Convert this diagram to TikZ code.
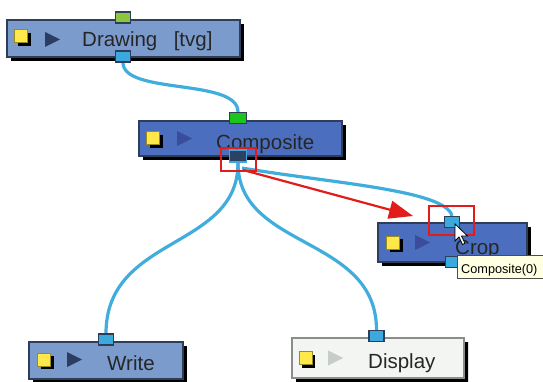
\documentclass[tikz,border=0pt]{standalone}
\usepackage{fontspec}
\setmainfont{Liberation Sans}
\usetikzlibrary{arrows.meta,shapes.misc,shadows}
\definecolor{nodeLight}{HTML}{7B9BCD}
\definecolor{nodeDark}{HTML}{4B6FBE}
\definecolor{nodeWhite}{HTML}{F2F5F1}
\definecolor{nodeEdge}{HTML}{2E3E5A}
\definecolor{cable}{HTML}{41ADDC}
\definecolor{portBlue}{HTML}{3BA9DD}
\definecolor{portSel}{HTML}{2D4262}
\definecolor{greenA}{HTML}{8CC63F}
\definecolor{greenB}{HTML}{1DC41D}
\definecolor{yel}{HTML}{FFE84A}
\definecolor{yelEdge}{HTML}{9A8A20}
\definecolor{triDark}{HTML}{2C3D62}
\definecolor{triBlue}{HTML}{3A4D9C}
\definecolor{triGray}{HTML}{C8CCC8}
\definecolor{redmark}{HTML}{E21B1B}
\definecolor{tipbg}{HTML}{FFFFE1}
\tikzset{
  nodebox/.style={draw=nodeEdge, line width=1.2pt, inner sep=0pt,
    drop shadow={shadow xshift=4pt, shadow yshift=-4pt, opacity=1, fill=black}},
  port/.style={draw=nodeEdge, line width=1.2pt, fill=portBlue, minimum width=15pt, minimum height=11pt, inner sep=0pt},
  yelbox/.style={draw=yelEdge, line width=1pt, fill=yel, minimum size=13pt, inner sep=0pt,
    drop shadow={shadow xshift=3pt, shadow yshift=-3pt, opacity=1, fill=black}},
  cab/.style={draw=cable, line width=3.2pt},
  label/.style={anchor=base west, inner sep=0pt, font=\fontsize{20.5}{24}\selectfont, text=black!85},
  redsq/.style={draw=redmark, line width=2pt, inner sep=0pt},
}
\begin{document}
\begin{tikzpicture}[x=1pt,y=-1pt]
\useasboundingbox (0,0) rectangle (543,382);
% boxes
\node[nodebox, fill=nodeLight, minimum width=233pt, minimum height=37pt] (drw) at (123.5,38.5) {};
\node[nodebox, fill=nodeDark, minimum width=203pt, minimum height=35pt] (cmp) at (240.5,138.5) {};
\node[nodebox, fill=nodeDark, minimum width=149pt, minimum height=39pt] (crp) at (452.5,242.5) {};
\node[nodebox, fill=nodeLight, minimum width=154pt, minimum height=37pt] (wrt) at (106,360.5) {};
\node[nodebox, fill=nodeWhite, draw=black!45, chamfered rectangle, chamfered rectangle corners={north west,north east}, chamfered rectangle xsep=7pt, chamfered rectangle ysep=7pt, minimum width=172pt, minimum height=40pt] (dsp) at (378,358) {};
% ports
\node[port, fill=greenA] (drwT) at (123,17.5) {};
\node[port] (drwB) at (123,56.5) {};
\node[port, fill=greenB, minimum width=17pt] (cmpT) at (238,118) {};
\node[port, fill=portSel, draw=portBlue, line width=1.6pt, minimum width=17pt, minimum height=12pt] (cmpB) at (238,156) {};
\node[port] (crpT) at (452,222) {};
\node[port] (crpB) at (453,262) {};
\node[port] (wrtT) at (106,339.5) {};
\node[port] (dspT) at (376.5,336) {};
% cables
\coordinate (cs) at (238,163);
\coordinate (cs2) at (242,168);
\draw[cab] (drwB.south) .. controls (123,95) and (238,78) .. (cmpT.north);
\draw[cab] (cs) .. controls (238,250) and (106,235) .. (wrtT.north);
\draw[cab] (cs) .. controls (238,250) and (376.5,235) .. (dspT.north);
\draw[cab] (cs2) .. controls (330,183) and (446,190) .. (crpT.north);
% redraw ports over cables
\node[port, fill=greenA] at (drwT) {};
\node[port] at (drwB) {};
\node[port, fill=greenB, minimum width=17pt] at (cmpT) {};
\node[port, fill=portSel, draw=portBlue, line width=1.6pt, minimum width=17pt, minimum height=12pt] at (cmpB) {};
\node[port] at (crpT) {};
\node[port] at (wrtT) {};
\node[port] at (dspT) {};
% yellow squares
\node[yelbox] (yd) at (21,36.5) {};
\node[yelbox] (yc) at (153,138.5) {};
\node[yelbox] (yr) at (393,242.5) {};
\node[yelbox] (yw) at (44,359.5) {};
\node[yelbox] (yp) at (305.5,358) {};
% triangles
\fill[triDark] (45,32) -- (60,39.5) -- (45,47) -- cycle;
\fill[triBlue] (177,131) -- (192,138.5) -- (177,146) -- cycle;
\fill[triBlue] (415,235) -- (430,242.5) -- (415,250) -- cycle;
\fill[triDark] (67,352) -- (82,359.5) -- (67,367) -- cycle;
\fill[triGray] (328,350.5) -- (343,358) -- (328,365.5) -- cycle;
% labels
\node[label] (ld) at (82,47) {Drawing\hspace{0.8em}[tvg]};
\node[label] (lc) at (216,150) {Composite};
\node[label] (lr) at (455,254) {Crop};
\node[label] (lw) at (107,370) {Write};
\node[label] (lp) at (368,368) {Display};
% crop bottom port and tooltip
\node[port] at (crpB) {};
\node[draw=black!70, line width=0.8pt, fill=tipbg, anchor=north west, minimum width=87pt, minimum height=23pt, inner sep=0pt] (tip) at (457,255) {};
\node[anchor=base west, inner sep=0pt, font=\fontsize{12.7}{15}\selectfont] (tipt) at (461,273) {Composite(0)};
% red marks
\node[redsq, minimum width=35pt, minimum height=23pt] (rs1) at (238.5,159.5) {};
\node[redsq, minimum width=45pt, minimum height=29pt] (rs2) at (451.5,220.5) {};
\coordinate (ra) at (243,170);
\coordinate (rb) at (413,216);
\draw[redmark, line width=2.2pt, -{Triangle[length=24pt,width=18pt]}] (ra) -- (rb);
% cursor
\draw[fill=white, draw=black, line width=0.8pt, line join=miter]
  (455,224) -- ++(0,17) -- ++(4,-4) -- ++(3.5,7.5) -- ++(2.5,-1.2) -- ++(-3.5,-7.3) -- ++(6,0) -- cycle;
\end{tikzpicture}
\end{document}
